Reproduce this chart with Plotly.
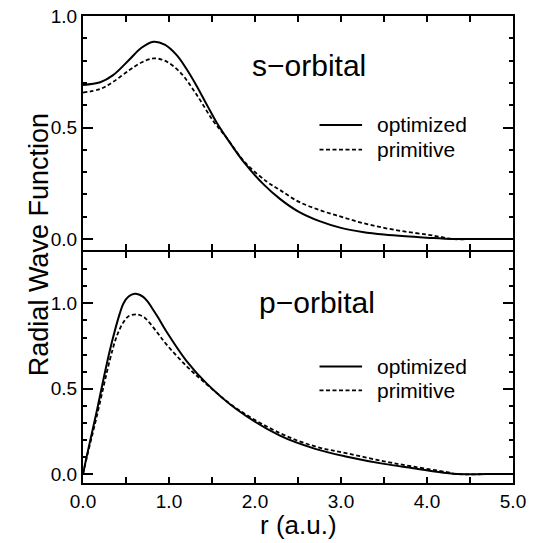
import plotly.graph_objects as go
from plotly.subplots import make_subplots

FONT = "Liberation Sans, Arial, Helvetica, sans-serif"

# s-orbital
s_r_opt = [0.0, 0.2, 0.35, 0.54, 0.68, 0.82, 0.95, 1.09, 1.2, 1.32, 1.45, 1.55, 1.67, 1.88,
           2.1, 2.29, 2.5, 2.75, 3.0, 3.25, 3.5, 3.75, 4.0, 4.3, 4.6, 5.0]
s_opt = [0.691, 0.703, 0.735, 0.805, 0.858, 0.885, 0.872, 0.825, 0.765, 0.688, 0.595, 0.525, 0.454, 0.34,
         0.245, 0.18, 0.124, 0.08, 0.05, 0.032, 0.02, 0.012, 0.006, 0.0, 0.0, 0.0]
s_r_prim = [0.0, 0.2, 0.35, 0.54, 0.68, 0.82, 0.95, 1.125, 1.32, 1.51, 1.67, 1.88, 2.135, 2.29,
            2.5, 2.75, 3.0, 3.25, 3.5, 3.75, 4.0, 4.15, 4.3, 4.6, 5.0]
s_prim = [0.657, 0.673, 0.705, 0.758, 0.792, 0.81, 0.8, 0.75, 0.648, 0.532, 0.454, 0.345, 0.258, 0.22,
          0.169, 0.13, 0.10, 0.072, 0.05, 0.033, 0.02, 0.01, 0.0, 0.0, 0.0]

# p-orbital
p_r_opt = [0.0, 0.05, 0.156, 0.31, 0.427, 0.47, 0.53, 0.6, 0.65, 0.7, 0.75, 0.8, 0.87, 0.97,
           1.2, 1.44, 1.785, 2.29, 2.7, 3.07, 3.5, 3.84, 4.23, 4.35, 4.7, 5.0]
p_opt = [0.0, 0.12, 0.36, 0.72, 0.94, 1.0, 1.04, 1.056, 1.052, 1.038, 1.012, 0.975, 0.92, 0.835,
         0.665, 0.53, 0.38, 0.225, 0.148, 0.102, 0.06, 0.035, 0.006, 0.0, 0.0, 0.0]
p_r_prim = [0.0, 0.05, 0.156, 0.31, 0.38, 0.427, 0.47, 0.53, 0.62, 0.66, 0.72, 0.777, 0.87, 0.97,
            1.2, 1.44, 1.785, 2.29, 2.7, 3.07, 3.5, 3.84, 4.23, 4.35, 4.7, 5.0]
p_prim = [0.0, 0.11, 0.33, 0.665, 0.79, 0.85, 0.89, 0.925, 0.936, 0.932, 0.915, 0.885, 0.825, 0.76,
          0.635, 0.525, 0.385, 0.24, 0.162, 0.122, 0.075, 0.044, 0.012, 0.0, 0.0, 0.0]

x_ticks = [0.0, 1.0, 2.0, 3.0, 4.0, 5.0]
series_names = ["optimized", "primitive"]
DASH = "4px,2.5px"


def add_panel(fig, row, r_opt, y_opt, r_prim, y_prim):
    fig.add_trace(go.Scatter(x=r_opt, y=y_opt, mode="lines", name=series_names[0],
                             line=dict(color="black", width=2, shape="spline", smoothing=1.0)),
                  row=row, col=1)
    fig.add_trace(go.Scatter(x=r_prim, y=y_prim, mode="lines", name=series_names[1],
                             line=dict(color="black", width=1.8, dash=DASH,
                                       shape="spline", smoothing=1.0)),
                  row=row, col=1)


def add_key(fig, row, y1, y2):
    # hand-drawn legend: line sample + label, inside each panel
    yref = "y" if row == 1 else "y2"
    for y, dash, name in [(y1, "solid", series_names[0]), (y2, DASH, series_names[1])]:
        fig.add_shape(type="line", xref="x", yref=yref, x0=2.75, x1=3.245, y0=y, y1=y,
                      line=dict(color="black", width=2 if dash == "solid" else 1.8, dash=dash))
        fig.add_annotation(xref="x", yref=yref, x=3.39, y=y, text=name, showarrow=False,
                           xanchor="left", yanchor="middle", font=dict(size=21, color="black"))


def main():
    fig = make_subplots(rows=2, cols=1, shared_xaxes=True, vertical_spacing=0)
    add_panel(fig, 1, s_r_opt, s_opt, s_r_prim, s_prim)
    add_panel(fig, 2, p_r_opt, p_opt, p_r_prim, p_prim)

    axis_common = dict(showline=True, linecolor="black", linewidth=2, mirror="ticks",
                       ticks="inside", tickcolor="black", tickwidth=2,
                       showgrid=False, zeroline=False, tickformat=".1f",
                       ticklabeloverflow="allow", automargin=False,
                       tickfont=dict(size=19, color="black"))
    fig.update_xaxes(range=[0, 5], tickvals=x_ticks, ticklen=6,
                     minor=dict(dtick=0.5, tick0=0, ticklen=6, ticks="inside",
                                tickcolor="black", tickwidth=2, showgrid=False),
                     **axis_common)
    fig.update_yaxes(tick0=0, dtick=0.5, ticklen=10,
                     minor=dict(dtick=0.1, tick0=0, ticklen=4, ticks="inside",
                                tickcolor="black", tickwidth=2, showgrid=False),
                     **axis_common)
    # the two axis lines at the seam should sit on top of each other
    fig.update_yaxes(range=[-0.047, 1.0005], domain=[0.5, 1.0], row=1, col=1)
    fig.update_yaxes(range=[-0.052, 1.304], domain=[0.0, 0.4957], row=2, col=1)

    fig.add_annotation(xref="x", yref="y", x=2.63, y=0.778, text="s\u2212orbital", showarrow=False,
                       font=dict(size=30, color="black"))
    fig.add_annotation(xref="x", yref="y2", x=2.72, y=1.004, text="p\u2212orbital", showarrow=False,
                       font=dict(size=30, color="black"))
    add_key(fig, 1, 0.512, 0.401)
    add_key(fig, 2, 0.631, 0.49)

    fig.add_annotation(xref="paper", yref="paper", x=-0.14, y=0.511, text="Radial Wave Function",
                       textangle=-90, showarrow=False, font=dict(size=27, color="black"))
    fig.add_annotation(xref="paper", yref="paper", x=0.5, y=-0.09, text="r (a.u.)",
                       showarrow=False, yanchor="middle", font=dict(size=26, color="black"))

    fig.update_layout(width=533, height=543, showlegend=False,
                      margin=dict(l=83, r=20, t=16, b=60),
                      paper_bgcolor="white", plot_bgcolor="white",
                      font=dict(family=FONT, color="black"))
    # drop the default 8px page margin so the figure fills the window
    fig.write_html("out.html", config={"displayModeBar": False},
                   post_script="document.body.style.margin = '0';")


if __name__ == '__main__':
    main()
